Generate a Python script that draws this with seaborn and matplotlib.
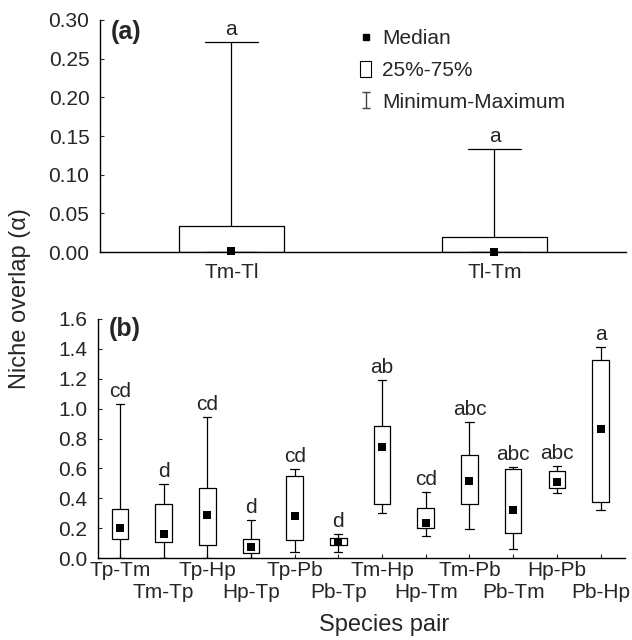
"""
Sobreposição de nicho (alpha) entre pares de espécies - painéis (a) e (b)
"""
import numpy as np
import pandas as pd
import seaborn as sns
import matplotlib.pyplot as plt
from matplotlib.lines import Line2D
from matplotlib.patches import Patch
from matplotlib.path import Path

sns.set_style('ticks')
plt.rcParams['font.family'] = ['Liberation Sans', 'DejaVu Sans']

# Painel (a)
a_pairs = ['Tm-Tl', 'Tl-Tm']
a_min = [0.0, 0.0]
a_q1 = [0.0, 0.0]
a_med = [0.001, 0.0005]
a_q3 = [0.034, 0.019]
a_max = [0.272, 0.133]
a_letters = ['a', 'a']

# Painel (b)
b_pairs = ['Tp-Tm', 'Tm-Tp', 'Tp-Hp', 'Hp-Tp', 'Tp-Pb', 'Pb-Tp',
           'Tm-Hp', 'Hp-Tm', 'Tm-Pb', 'Pb-Tm', 'Hp-Pb', 'Pb-Hp']
b_min = [0.0, 0.0, 0.0, 0.0, 0.042, 0.04, 0.30, 0.149, 0.196, 0.06, 0.434, 0.319]
b_q1 = [0.13, 0.11, 0.09, 0.033, 0.118, 0.085, 0.363, 0.198, 0.363, 0.165, 0.466, 0.372]
b_med = [0.20, 0.158, 0.29, 0.071, 0.28, 0.107, 0.744, 0.238, 0.519, 0.323, 0.506, 0.867]
b_q3 = [0.33, 0.36, 0.47, 0.125, 0.546, 0.136, 0.882, 0.336, 0.693, 0.595, 0.582, 1.323]
b_max = [1.03, 0.495, 0.947, 0.252, 0.595, 0.163, 1.19, 0.441, 0.911, 0.61, 0.617, 1.41]
b_letters = ['cd', 'd', 'cd', 'd', 'cd', 'd', 'ab', 'cd', 'abc', 'abc', 'abc', 'a']

FS = 15


def five_number_frame(pairs, *stats):
    # cada par vira 5 valores: min, q1, mediana, q3, max
    rows = []
    for i, p in enumerate(pairs):
        for s in stats:
            rows.append((p, s[i]))
    return pd.DataFrame(rows, columns=['pair', 'value'])


def draw_panel(ax, pairs, frame, med, mx, letters, width):
    sns.boxplot(data=frame, x='pair', y='value', order=pairs, whis=(0, 100),
                width=width, fill=False, color='black', linewidth=0.9,
                medianprops={'visible': False}, ax=ax)
    sns.stripplot(x=pairs, y=med, order=pairs, jitter=False, marker='s',
                  color='black', size=5.5, linewidth=0, ax=ax, zorder=4)
    for c in ax.collections:
        c.set_clip_on(False)
    for i, (v, t) in enumerate(zip(mx, letters)):
        ax.annotate(t, (i, v), xytext=(0, 5), textcoords='offset points',
                    ha='center', va='baseline', fontsize=FS)
    ax.set_xlabel('')
    ax.set_ylabel('')
    sns.despine(ax=ax)
    for s in ['left', 'bottom']:
        ax.spines[s].set_color('black')
        ax.spines[s].set_linewidth(1)


fig = plt.figure(figsize=(6.32, 6.4), dpi=100)
ax_a = fig.add_axes([0.158, 0.606, 0.8325, 0.363])
ax_b = fig.add_axes([0.155, 0.128, 0.834, 0.3736])

df_a = five_number_frame(a_pairs, a_min, a_q1, a_med, a_q3, a_max)
draw_panel(ax_a, a_pairs, df_a, a_med, a_max, a_letters, 0.40)
ax_a.set_xlim(-0.5, 1.5)
ax_a.set_ylim(0, 0.30)
ax_a.set_yticks(np.arange(0, 0.301, 0.05))
ax_a.set_yticklabels([f'{v:.2f}' for v in np.arange(0, 0.301, 0.05)])
ax_a.tick_params(axis='y', direction='in', length=3, width=0.8, pad=7.5, labelsize=FS)
ax_a.tick_params(axis='x', direction='in', length=0, pad=8, labelsize=FS)
ax_a.text(0.02, 1.0, '(a)', transform=ax_a.transAxes, fontsize=18,
          fontweight='bold', ha='left', va='top')

# simbolo de minimo-maximo (I com barras)
ibeam = Path([(-0.45, 1), (0.45, 1), (0, 1), (0, -1), (-0.45, -1), (0.45, -1)],
             [Path.MOVETO, Path.LINETO, Path.MOVETO, Path.LINETO, Path.MOVETO, Path.LINETO])
handles = [Line2D([], [], marker='s', ls='none', color='black', markersize=4),
           Patch(facecolor='white', edgecolor='black', linewidth=0.8),
           Line2D([], [], marker=ibeam, ls='none', color='#444444', markerfacecolor='none',
                  markeredgewidth=1, markersize=12)]
ax_a.legend(handles, ['Median', '25%-75%', 'Minimum-Maximum'], loc='upper left',
            bbox_to_anchor=(360 / 632, 1 - 29 / 640), bbox_transform=fig.transFigure,
            frameon=False, handlelength=0.55, handleheight=0.8, handletextpad=0.5,
            labelspacing=0.6, fontsize=FS, borderaxespad=0, borderpad=0)

df_b = five_number_frame(b_pairs, b_min, b_q1, b_med, b_q3, b_max)
draw_panel(ax_b, b_pairs, df_b, b_med, b_max, b_letters, 0.38)
ax_b.set_xlim(-0.5, 11.56)
ax_b.set_ylim(0, 1.6)
ax_b.set_yticks(np.arange(0, 1.61, 0.2))
ax_b.set_yticklabels([f'{v:.1f}' for v in np.arange(0, 1.61, 0.2)])
ax_b.set_xticks(range(len(b_pairs)))
ax_b.set_xticklabels(b_pairs)
ax_b.tick_params(axis='y', direction='in', length=3, width=0.8, pad=7.5, labelsize=FS)
ax_b.tick_params(axis='x', direction='in', length=3, width=0.8, pad=2, labelsize=FS)
# rotulos alternados em duas linhas
for i, tick in enumerate(ax_b.xaxis.get_major_ticks()):
    if i % 2 == 1:
        tick.set_pad(18)
ax_b.text(0.02, 1.01, '(b)', transform=ax_b.transAxes, fontsize=18,
          fontweight='bold', ha='left', va='top')

fig.text(0.032, 0.534, 'Niche overlap (α)', rotation=90, ha='center', va='center', fontsize=17)
fig.text(0.608, 0.023, 'Species pair', ha='center', va='center', fontsize=17)

fig.savefig('out.png', dpi=100)
